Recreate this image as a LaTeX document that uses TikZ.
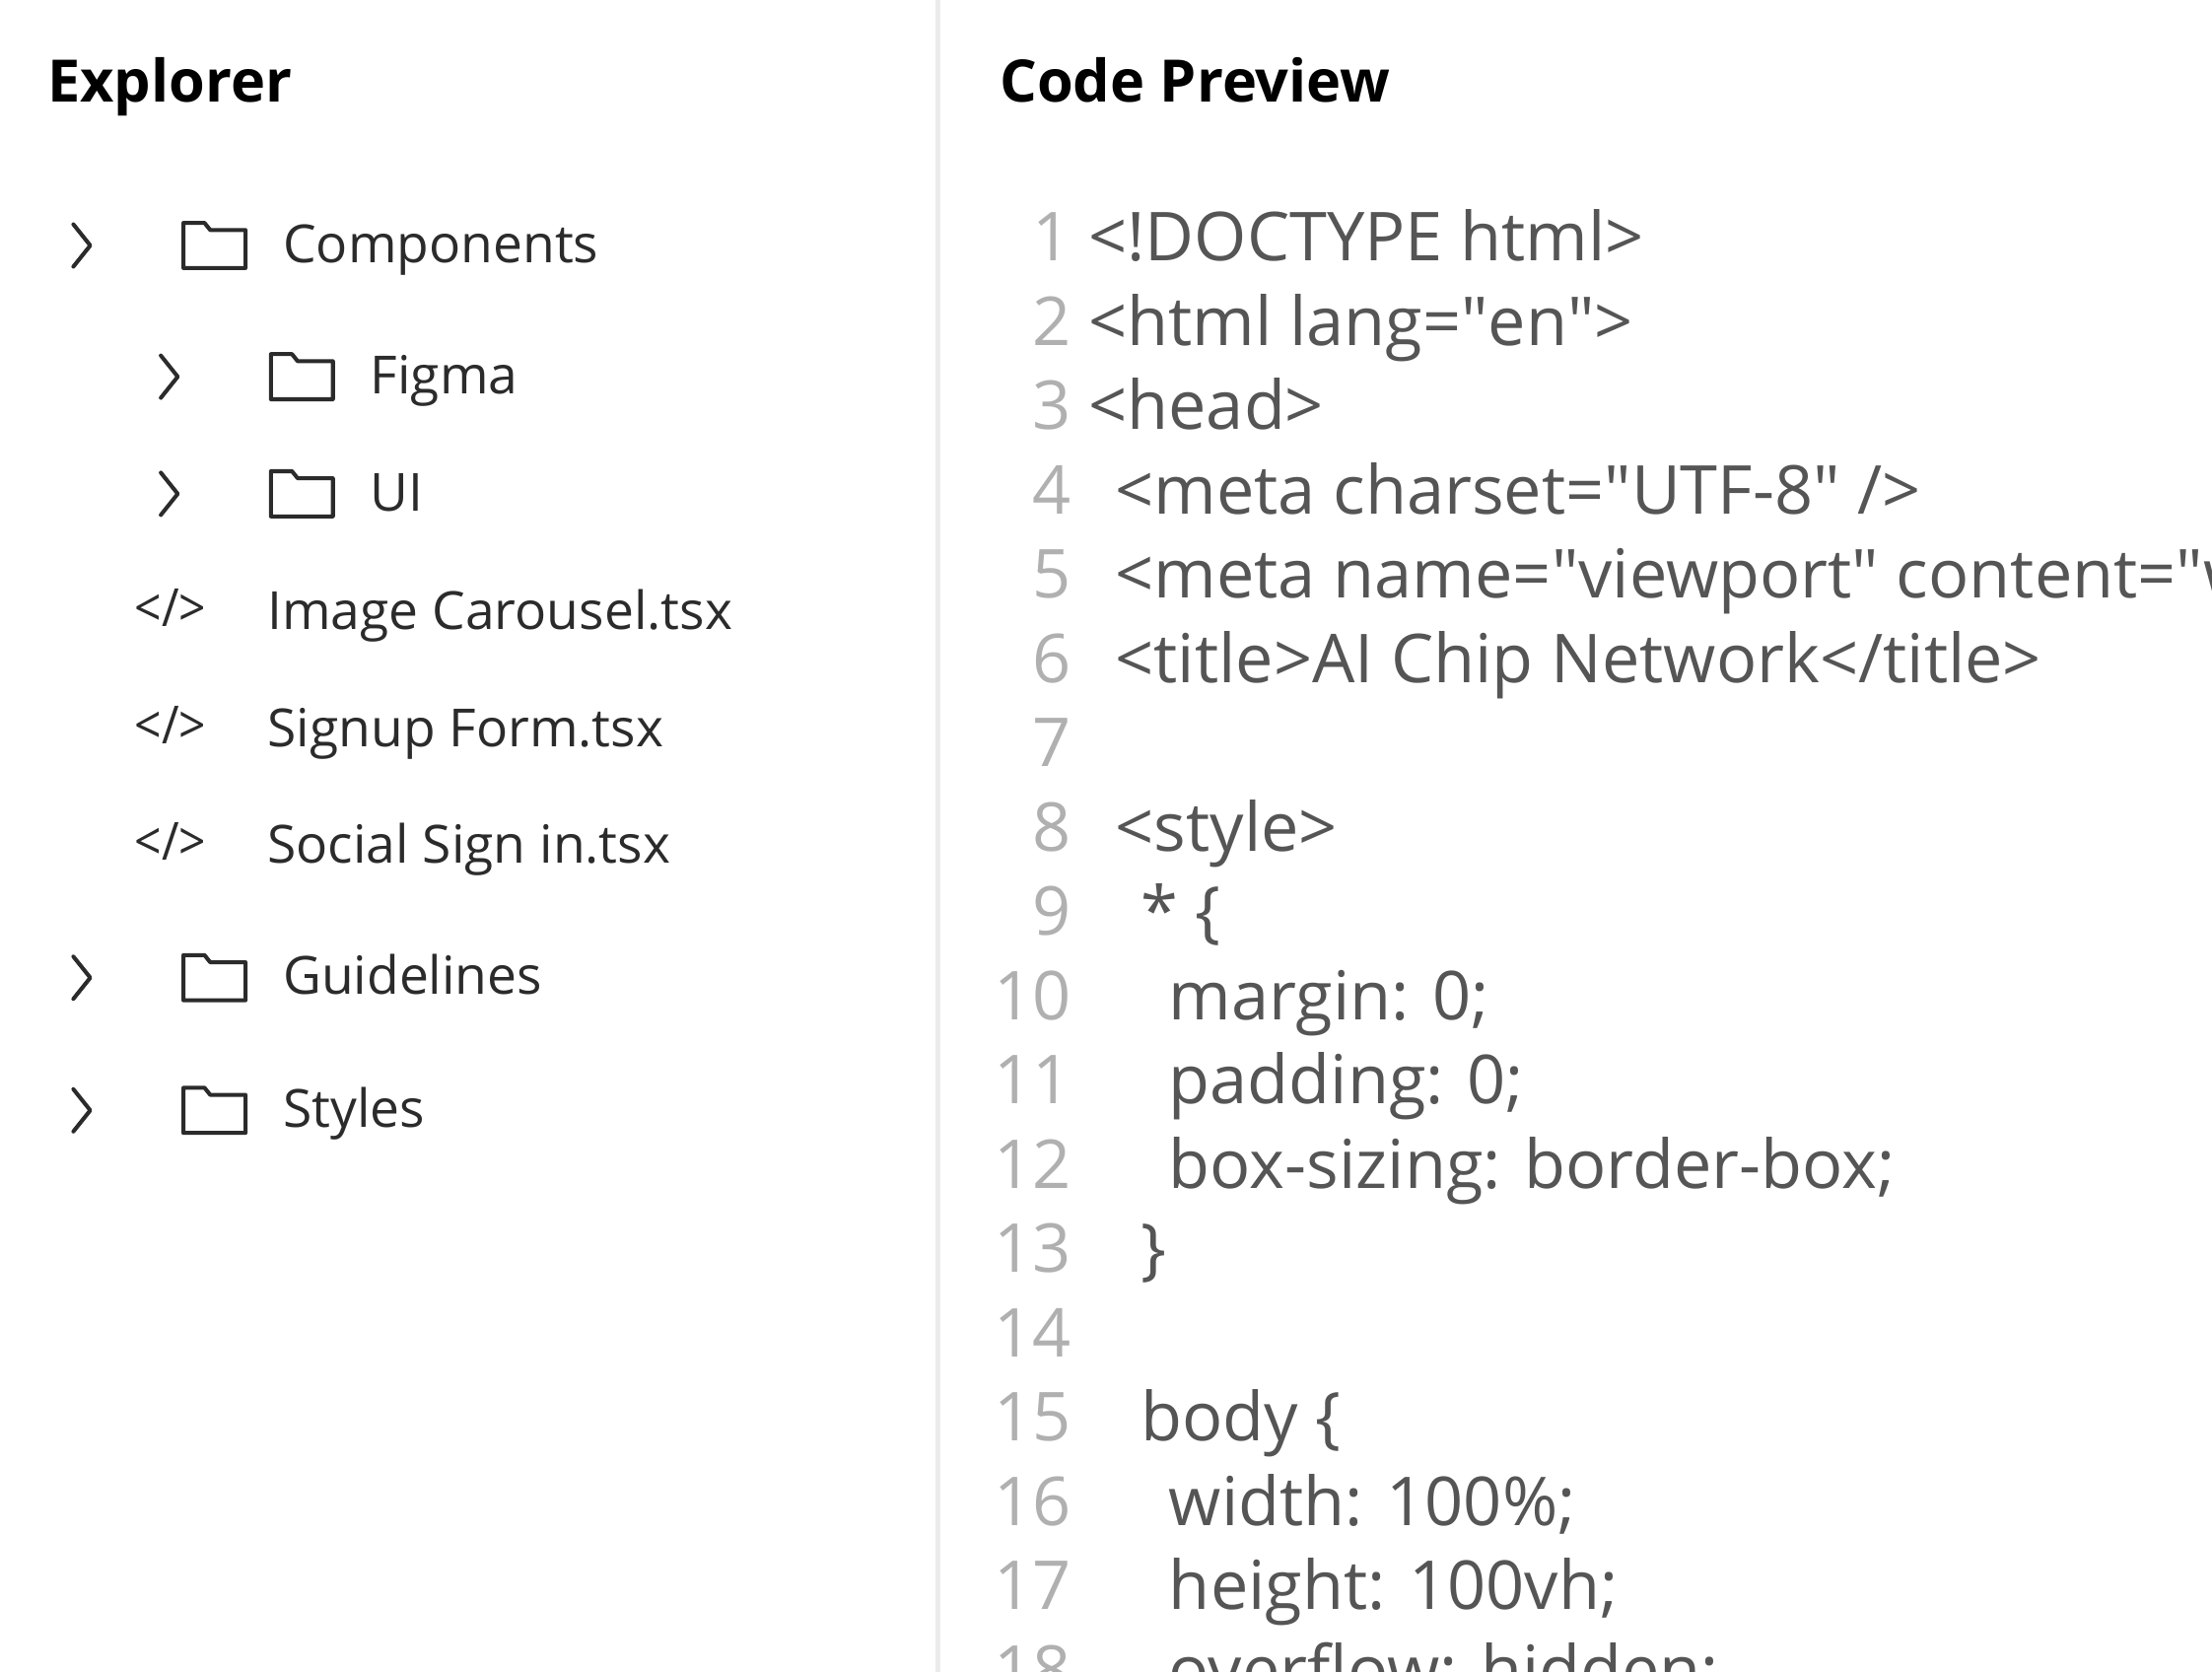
\documentclass[tikz,border=0pt]{standalone}
\usepackage{fontspec}
\setmainfont{Open Sans}
\usetikzlibrary{positioning}
\definecolor{ink}{HTML}{2B2B2B}
\definecolor{numgray}{HTML}{B0B0B0}
\definecolor{codegray}{HTML}{555555}
\definecolor{rule}{HTML}{EBEBEB}
\newcommand{\dq}{\textquotedbl}
\begin{document}
\begin{tikzpicture}[x=0.01cm,y=-0.01cm,
  title/.style={anchor=base west,inner sep=0pt,font=\fontsize{11.8}{14}\selectfont\bfseries,text=black},
  item/.style={anchor=base west,inner sep=0pt,font=\fontsize{10.6}{13}\selectfont,text=ink},
  lnum/.style={anchor=base east,inner sep=0pt,font=\fontsize{13.6}{16}\selectfont,text=numgray},
  code/.style={anchor=base west,inner sep=0pt,font=\fontsize{13.6}{16}\selectfont,text=codegray},
  icon/.style={draw=ink,line width=0.8pt,line join=round,line cap=round}]
\useasboundingbox (0,0) rectangle (1568,1185);
\fill[white] (0,0) rectangle (1568,1185);
\draw[rule,line width=1pt] (665,0) -- (665,1185);
% explorer
\node[title] (explorer) at (33,72) {Explorer};
\foreach \name/\cx/\fx/\y/\t in {comp/58/130/174/Components, figma/120/192/267/Figma,
    ui/120/192/350/UI, guide/58/130/693/Guidelines, styles/58/130/787/Styles}{
  \draw[icon] (\cx-6,\y-15) -- (\cx+6,\y) -- (\cx-6,\y+15);
  \draw[icon] (\fx,\y-16) -- (\fx+15,\y-16) -- (\fx+19,\y-11) -- (\fx+44,\y-11)
    -- (\fx+44,\y+16) -- (\fx,\y+16) -- cycle;
  \node[item] (\name) at (\fx+70,\y+12) {\t};
}
\foreach \name/\y/\t in {carousel/434/Image Carousel.tsx, signup/517/Signup Form.tsx,
    social/600/Social Sign in.tsx}{
  \node[item,anchor=base] (\name-icon) at (121,\y+10) {\addfontfeature{FakeStretch=0.9}</>};
  \node[item] (\name) at (189,\y+12) {\t};
}
% code preview
\node[title] (preview) at (708,72) {Code Preview};
\begin{scope}
\clip (666,100) rectangle (1568,1185);
\foreach \n/\x/\t in {1/771/{<!DOCTYPE html>}, 2/771/{<html lang=\dq en\dq>}, 3/771/{<head>},
    4/790/{<meta charset=\dq UTF-8\dq\ />}, 5/790/{<meta name=\dq viewport\dq\ content=\dq width=device-width\dq>},
    6/790/{<title>AI Chip Network</title>}, 7/790/{}, 8/790/{<style>}, 9/808/{* \{},
    10/828/{margin: 0;}, 11/828/{padding: 0;}, 12/828/{box-sizing: border-box;},
    13/808/{\}}, 14/808/{}, 15/808/{body \{}, 16/828/{width: 100\%;},
    17/828/{height: 100vh;}, 18/828/{overflow: hidden;}}{
  \node[lnum] (num\n) at (760,{168+59.75*(\n-1)+17}) {\n};
  \node[code] (line\n) at (\x,{168+59.75*(\n-1)+17}) {\t};
}
\end{scope}
\end{tikzpicture}
\end{document}
